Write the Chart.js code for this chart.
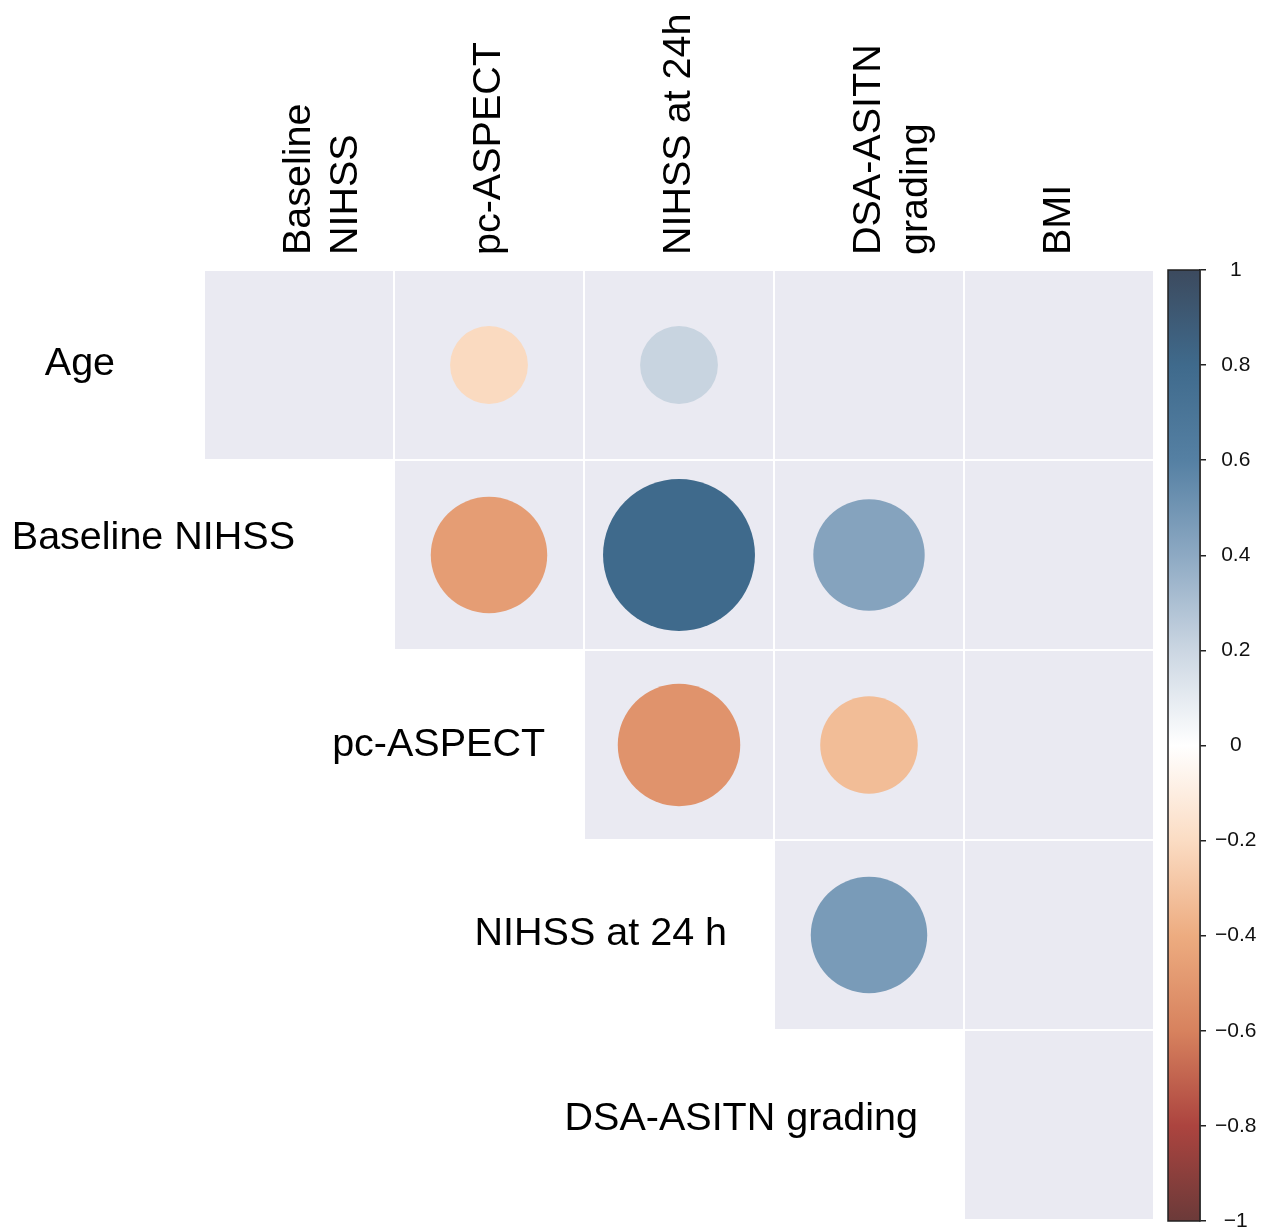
<!DOCTYPE html>
<html>
<head>
<meta charset="utf-8">
<script src="https://cdn.jsdelivr.net/npm/chart.js@4.4.1/dist/chart.umd.min.js"></script>
<style>
  body { margin: 0; background: #fff; }
  #wrap { position: relative; width: 1272px; height: 1227px; }
  #main { position: absolute; left: 0; top: 0; }
  #bar { position: absolute; left: 1160px; top: 0; }
</style>
</head>
<body>
<div id="wrap">
  <canvas id="main" width="1272" height="1227"></canvas>
  <canvas id="bar" width="112" height="1227"></canvas>
</div>
<script>
// columns (top) and rows (left) of the upper-triangle matrix
const colLabels = [['Baseline', 'NIHSS'], 'pc-ASPECT', 'NIHSS at 24h', ['DSA-ASITN', 'grading'], 'BMI'];
const rowLabels = ['Age', 'Baseline NIHSS', 'pc-ASPECT', 'NIHSS at 24 h', 'DSA-ASITN grading'];

// correlation per row, one entry per column; null = no circle drawn
const rAge      = [null, -0.21, 0.21, null, null];
const rBaseline = [null, -0.47, 0.80, 0.43, null];
const rPcAspect = [null, null, -0.52, -0.33, null];
const rNihss24  = [null, null, null, 0.47, null];
const rDsa      = [null, null, null, null, null];
const corrRows = [rAge, rBaseline, rPcAspect, rNihss24, rDsa];

// colour bar
const cbTicks = [1, 0.8, 0.6, 0.4, 0.2, 0, -0.2, -0.4, -0.6, -0.8, -1];
const cbColors = ['#3c4a5e', '#3f6a8c', '#5580a3', '#8da9c3', '#cbd6e2', '#ffffff',
                  '#fbdcc3', '#edac80', '#d7825e', '#ac443f', '#6b3a39'];

// where the row labels sit (right end in column units, baseline offset in row units)
const rowLabelEnd = [-0.968, -0.021, 1.295, 2.253, 3.258];
const rowLabelBase = [0.053, -0.032, 0.058, 0.053, 0.026];

const FONT = '"Liberation Sans", Arial, Helvetica, sans-serif';
const LABEL_SIZE = 39.5;
const LINE_H = LABEL_SIZE * 1.2;

function hex(c) {
  return [1, 3, 5].map(i => parseInt(c.substr(i, 2), 16));
}
function colorFor(v) {
  for (let i = 0; i < cbTicks.length - 1; i++) {
    const a = cbTicks[i], b = cbTicks[i + 1];
    if (v <= a && v >= b) {
      const t = (a - v) / (a - b);
      const ca = hex(cbColors[i]), cb = hex(cbColors[i + 1]);
      const m = ca.map((x, k) => Math.round(x + (cb[k] - x) * t));
      return `rgb(${m[0]},${m[1]},${m[2]})`;
    }
  }
  return '#fff';
}

const points = [];
corrRows.forEach((row, i) => {
  row.forEach((v, j) => {
    if (v !== null) points.push({ x: j, y: i, v: v });
  });
});

const cellsPlugin = {
  id: 'cells',
  beforeDatasetsDraw(chart) {
    const { ctx, scales: { x, y } } = chart;
    ctx.save();
    ctx.fillStyle = '#eaeaf2';
    for (let i = 0; i < rowLabels.length; i++) {
      for (let j = i; j < colLabels.length; j++) {
        const x0 = x.getPixelForValue(j - 0.5), x1 = x.getPixelForValue(j + 0.5);
        const y0 = y.getPixelForValue(i - 0.5), y1 = y.getPixelForValue(i + 0.5);
        ctx.fillRect(x0 + 1, y0 + 1, x1 - x0 - 2, y1 - y0 - 2);
      }
    }
    ctx.restore();
  },
  afterDraw(chart) {
    const { ctx, scales: { x, y } } = chart;
    ctx.save();
    ctx.font = LABEL_SIZE + 'px ' + FONT;
    ctx.fillStyle = '#000';
    ctx.textAlign = 'right';
    ctx.textBaseline = 'alphabetic';
    rowLabels.forEach((lab, i) => {
      ctx.fillText(lab, x.getPixelForValue(rowLabelEnd[i]), y.getPixelForValue(i + rowLabelBase[i]));
    });
    ctx.restore();
  }
};

function cellSize(chart) {
  const x = chart.scales.x;
  return x.getPixelForValue(1) - x.getPixelForValue(0);
}
function radius(c) {
  return c.raw ? 0.447 * cellSize(c.chart) * Math.sqrt(Math.abs(c.raw.v)) : 0;
}

new Chart(document.getElementById('main'), {
  type: 'scatter',
  data: {
    datasets: [{
      data: points,
      pointRadius: radius,
      pointHoverRadius: radius,
      backgroundColor: c => c.raw ? colorFor(c.raw.v) : '#fff',
      borderWidth: 0
    }]
  },
  options: {
    responsive: false,
    animation: false,
    events: [],
    layout: { padding: { left: 204, right: 118, top: 0, bottom: 7 } },
    plugins: { legend: { display: false }, tooltip: { enabled: false } },
    scales: {
      x: {
        type: 'linear', position: 'top', min: -0.5, max: 4.5,
        grid: { display: false }, border: { display: false },
        afterBuildTicks: s => { s.ticks = colLabels.map((_, i) => ({ value: i })); },
        afterFit: s => { s.height = 270; },
        ticks: {
          autoSkip: false, minRotation: 90, maxRotation: 90, padding: 7,
          labelOffset: 2 * LINE_H,
          color: '#000', font: { family: FONT, size: LABEL_SIZE, lineHeight: 1.2 },
          // always two lines so the first line sits on the tick
          callback: v => {
            const l = colLabels[v];
            return Array.isArray(l) ? l : [l, ''];
          }
        }
      },
      y: { type: 'linear', min: -0.5, max: 4.5, reverse: true, display: false }
    }
  },
  plugins: [cellsPlugin]
});

const gradientPlugin = {
  id: 'cbfill',
  beforeDatasetsDraw(chart) {
    const { ctx, chartArea: a } = chart;
    const g = ctx.createLinearGradient(0, a.top, 0, a.bottom);
    cbTicks.forEach((v, i) => g.addColorStop((1 - v) / 2, cbColors[i]));
    ctx.save();
    ctx.fillStyle = g;
    ctx.fillRect(a.left, a.top, a.right - a.left, a.bottom - a.top);
    ctx.restore();
  },
  afterDraw(chart) {
    const { ctx, chartArea: a } = chart;
    ctx.save();
    ctx.strokeStyle = '#222';
    ctx.lineWidth = 1.5;
    ctx.strokeRect(a.left, a.top, a.right - a.left, a.bottom - a.top);
    ctx.restore();
  }
};

new Chart(document.getElementById('bar'), {
  type: 'scatter',
  data: { datasets: [{ data: [] }] },
  options: {
    responsive: false,
    animation: false,
    events: [],
    layout: { padding: { left: 8, right: 0, top: 270, bottom: 6 } },
    plugins: { legend: { display: false }, tooltip: { enabled: false } },
    scales: {
      x: { display: false, min: 0, max: 1 },
      y: {
        position: 'right', min: -1, max: 1,
        afterBuildTicks: s => { s.ticks = cbTicks.map(v => ({ value: v })); },
        afterFit: s => { s.width = 72; s.paddingTop = 0; s.paddingBottom = 0; },
        grid: { drawOnChartArea: false, drawTicks: true, tickLength: 6, color: '#222', lineWidth: 1.5 },
        border: { display: true, color: '#222', width: 1.5 },
        ticks: {
          crossAlign: 'center', padding: 9, color: '#111',
          font: { family: FONT, size: 21 },
          callback: v => String(Math.round(v * 10) / 10).replace('-', '\u2212')
        }
      }
    }
  },
  plugins: [gradientPlugin]
});
</script>
</body>
</html>
